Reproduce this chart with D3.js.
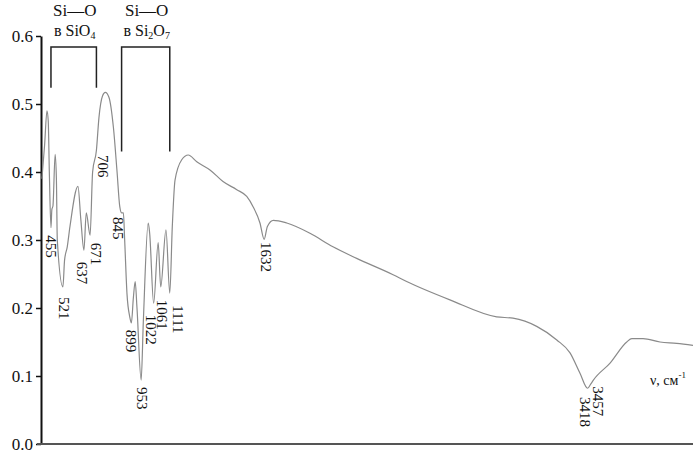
<!DOCTYPE html>
<html>
<head>
<meta charset="utf-8">
<script src="https://cdn.jsdelivr.net/npm/d3@7"></script>
<style>
  body { margin: 0; background: #fff; }
  text { font-family: "Liberation Serif", "Times New Roman", serif; fill: #111; }
</style>
</head>
<body>
<svg id="chart" width="697" height="454"></svg>
<script>
// IR spectrum, wavenumber (cm-1) vs absorbance
var wavenumber = [405, 420, 433, 440, 446, 455, 460, 466, 478, 485, 490, 521, 530, 545, 560, 604, 620, 637, 650, 671,
    685, 706, 720, 740, 755, 775, 800, 820, 835, 845, 855, 862, 875, 890, 899, 910, 920, 930, 953, 965,
    992, 1000, 1022, 1047, 1061, 1090, 1111, 1125, 1140, 1177, 1213, 1260, 1333, 1405, 1481, 1536, 1571, 1609, 1632, 1650,
    1683, 1757, 1885, 2012, 2143, 2344, 2419, 2658, 2916, 3006, 3137, 3248, 3321, 3376, 3418, 3435, 3450, 3542, 3634, 3662,
    3724, 3818, 3910, 4000];
var absorbance = [0.39, 0.44, 0.49, 0.475, 0.40, 0.318, 0.345, 0.35, 0.426, 0.39, 0.30, 0.231, 0.27, 0.29, 0.32, 0.379, 0.33, 0.285, 0.34, 0.307,
    0.40, 0.432, 0.48, 0.512, 0.517, 0.51, 0.465, 0.40, 0.349, 0.34, 0.34, 0.30, 0.22, 0.187, 0.178, 0.215, 0.239, 0.20, 0.094, 0.18,
    0.325, 0.31, 0.207, 0.296, 0.231, 0.315, 0.222, 0.32, 0.388, 0.418, 0.425, 0.415, 0.403, 0.386, 0.374, 0.364, 0.349, 0.325, 0.301, 0.32,
    0.329, 0.325, 0.31, 0.29, 0.273, 0.249, 0.239, 0.212, 0.187, 0.185, 0.173, 0.153, 0.134, 0.104, 0.082, 0.088, 0.094, 0.119, 0.150, 0.155,
    0.155, 0.150, 0.148, 0.145];

// peak labels and the absorbance where each label starts
var peaks = [455, 521, 637, 671, 706, 845, 899, 953, 1022, 1061, 1111, 1632, 3418, 3457];
var peakLabelTop = [0.307, 0.216, 0.268, 0.296, 0.425, 0.334, 0.168, 0.084, 0.19, 0.212, 0.204, 0.297, 0.069, 0.085];
var labelShift = [0, 1, -2, 6, 7, -3, 0, 1, -2, 2, 8, 2, -2, 4];

var yTicks = [0, 0.1, 0.2, 0.3, 0.4, 0.5, 0.6];

// Si-O band groups
var groupRanges = [[455, 706], [845, 1111]];
var groupLegEnd = [0.524, 0.43];
var groupLine1 = ["Si\u2014O", "Si\u2014O"];
var groupLine2 = [["в SiO", "4", "", ""], ["в Si", "2", "O", "7"]];

var svg = d3.select("#chart");

var x = d3.scaleLinear().domain([400, 4000]).range([41, 693]);
var y = d3.scaleLinear().domain([0, 0.6]).range([444, 36]);

// axes
var yAxis = d3.axisLeft(y).tickValues(yTicks).tickFormat(d3.format(".1f")).tickSize(5).tickSizeOuter(0);
var gy = svg.append("g").attr("transform", "translate(41,0)").call(yAxis);
gy.select(".domain").attr("stroke", "#111").attr("stroke-width", 2);
gy.selectAll(".tick line").attr("stroke", "#111").attr("stroke-width", 1.5);
gy.selectAll(".tick text").attr("x", -8).attr("font-size", 17)
    .style("font-family", "Liberation Serif, serif").attr("fill", "#111");

svg.append("line")
    .attr("x1", 37).attr("x2", 693)
    .attr("y1", y(0)).attr("y2", y(0))
    .attr("stroke", "#555").attr("stroke-width", 2);

// spectrum
var line = d3.line()
    .x(function (d, i) { return x(wavenumber[i]); })
    .y(function (d) { return y(d); })
    .curve(d3.curveMonotoneX);

svg.append("path")
    .datum(absorbance)
    .attr("d", line)
    .attr("fill", "none")
    .attr("stroke", "#8a8a8a")
    .attr("stroke-width", 1.2);

// peak labels, rotated
peaks.forEach(function (p, i) {
    var px = x(p) + labelShift[i];
    var py = y(peakLabelTop[i]);
    svg.append("text")
        .attr("transform", "translate(" + px + "," + py + ") rotate(90)")
        .attr("dy", "0.35em")
        .attr("font-size", 15)
        .text(p);
});

// bracket annotations
groupRanges.forEach(function (r, i) {
    var x1 = x(r[0]), x2 = x(r[1]);
    var top = y(0.584), bot = y(groupLegEnd[i]);
    svg.append("path")
        .attr("d", "M" + x1 + "," + bot + "V" + top + "H" + x2 + "V" + bot)
        .attr("fill", "none").attr("stroke", "#222").attr("stroke-width", 1.5);
    var cx = (x1 + x2) / 2 + 1;
    svg.append("text").attr("x", cx).attr("y", 16)
        .attr("text-anchor", "middle").attr("font-size", 17)
        .text(groupLine1[i]);
    var t = svg.append("text").attr("x", cx).attr("y", 36)
        .attr("text-anchor", "middle").attr("font-size", 16);
    var parts = groupLine2[i];
    t.append("tspan").text(parts[0]);
    t.append("tspan").attr("font-size", 10).attr("dy", 3).text(parts[1]);
    if (parts[2]) {
        t.append("tspan").attr("dy", -3).text(parts[2]);
        t.append("tspan").attr("font-size", 10).attr("dy", 3).text(parts[3]);
    }
});

// axis title
var xt = svg.append("text").attr("x", 650).attr("y", 385).attr("font-size", 14);
xt.append("tspan").text("\u03bd, см");
xt.append("tspan").attr("font-size", 9).attr("dy", -7).text("-1");
</script>
</body>
</html>
